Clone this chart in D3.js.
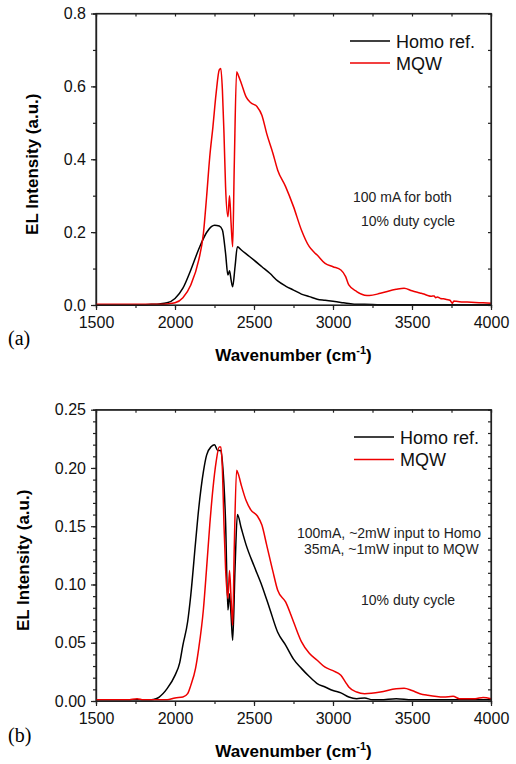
<!DOCTYPE html>
<html>
<head>
<meta charset="utf-8">
<script src="https://cdn.jsdelivr.net/npm/d3@7"></script>
<style>
  body { margin: 0; background: #fff; }
  svg { font-family: "Liberation Sans", Arial, sans-serif; }
  .axis path, .axis line { stroke: #222; stroke-width: 1.2; }
  .axis text { font-size: 16px; fill: #111; }
</style>
</head>
<body>
<div id="chart-area"></div>
<script>
/*
*    EL spectra, two panels
*/

// shared
var xTicks = [1500, 2000, 2500, 3000, 3500, 4000]
var seriesNames = ["Homo ref.", "MQW"]
var seriesColors = ["#000000", "#ee0000"]

// panel (a): 100 mA for both
var aYTicks = [0.0, 0.2, 0.4, 0.6, 0.8]
var aNotes = ["100 mA for both", "10% duty cycle"]

var aHomoX = [1500, 1600, 1700, 1800, 1850, 1900, 1950, 2000, 2050, 2100, 2150, 2200, 2230, 2250, 2280, 2300, 2320, 2335, 2345, 2355, 2365, 2380, 2395, 2420, 2460, 2500, 2550, 2600, 2650, 2700, 2750, 2800, 2850, 2900, 2950, 3000, 3050, 3100, 3150, 3200, 3300, 3400, 3500, 3600, 3700, 3800, 3900, 4000]
var aHomoY = [0.001, 0.001, 0.001, 0.001, 0.002, 0.003, 0.006, 0.018, 0.046, 0.096, 0.153, 0.199, 0.215, 0.219, 0.217, 0.206, 0.142, 0.082, 0.094, 0.069, 0.050, 0.105, 0.160, 0.151, 0.137, 0.123, 0.105, 0.087, 0.066, 0.052, 0.041, 0.030, 0.023, 0.016, 0.013, 0.010, 0.007, 0.004, 0.002, 0.002, 0.001, 0.001, 0.001, 0.001, 0.001, 0.001, 0.001, 0.001]

var aMqwX = [1500, 1600, 1700, 1800, 1900, 1950, 2000, 2050, 2100, 2150, 2180, 2200, 2220, 2240, 2260, 2280, 2290, 2300, 2310, 2320, 2335, 2345, 2355, 2365, 2375, 2390, 2400, 2420, 2450, 2480, 2520, 2550, 2580, 2620, 2650, 2700, 2750, 2800, 2850, 2880, 2900, 2950, 3000, 3050, 3080, 3100, 3150, 3200, 3230, 3300, 3400, 3450, 3500, 3550, 3575, 3600, 3620, 3640, 3650, 3660, 3680, 3700, 3720, 3740, 3755, 3765, 3780, 3800, 3850, 3900, 3950, 4000]
var aMqwY = [0.002, 0.002, 0.002, 0.002, 0.002, 0.003, 0.006, 0.020, 0.055, 0.123, 0.197, 0.297, 0.407, 0.489, 0.580, 0.645, 0.649, 0.590, 0.471, 0.325, 0.242, 0.300, 0.224, 0.160, 0.380, 0.640, 0.631, 0.608, 0.571, 0.555, 0.544, 0.521, 0.471, 0.416, 0.370, 0.325, 0.270, 0.206, 0.160, 0.145, 0.137, 0.114, 0.105, 0.096, 0.078, 0.055, 0.037, 0.027, 0.026, 0.032, 0.043, 0.046, 0.039, 0.033, 0.030, 0.026, 0.024, 0.025, 0.020, 0.022, 0.018, 0.017, 0.015, 0.013, 0.005, 0.011, 0.010, 0.009, 0.008, 0.007, 0.006, 0.005]

// panel (b): different drive currents
var bYTicks = [0.00, 0.05, 0.10, 0.15, 0.20, 0.25]
var bNotes = ["100mA, ~2mW input to Homo", "35mA, ~1mW input to MQW", "10% duty cycle"]

var bHomoX = [1500, 1600, 1700, 1800, 1850, 1880, 1900, 1950, 2000, 2030, 2050, 2080, 2100, 2130, 2150, 2180, 2200, 2230, 2250, 2270, 2290, 2300, 2320, 2335, 2345, 2355, 2365, 2380, 2395, 2420, 2450, 2500, 2550, 2600, 2650, 2700, 2750, 2800, 2850, 2900, 2950, 3000, 3050, 3100, 3150, 3200, 3250, 3300, 3400, 3500, 3600, 3700, 3800, 3900, 4000]
var bHomoY = [0.001, 0.001, 0.001, 0.001, 0.001, 0.002, 0.0034, 0.0106, 0.022, 0.033, 0.048, 0.068, 0.091, 0.136, 0.165, 0.197, 0.211, 0.2185, 0.220, 0.215, 0.215, 0.205, 0.154, 0.078, 0.092, 0.0735, 0.052, 0.114, 0.160, 0.148, 0.134, 0.116, 0.099, 0.079, 0.059, 0.048, 0.036, 0.028, 0.021, 0.015, 0.012, 0.009, 0.007, 0.0034, 0.002, 0.0026, 0.001, 0.001, 0.002, 0.001, 0.001, 0.001, 0.001, 0.001, 0.001]

var bMqwX = [1500, 1600, 1700, 1760, 1800, 1900, 1950, 2000, 2050, 2080, 2100, 2130, 2150, 2180, 2200, 2220, 2240, 2260, 2280, 2290, 2300, 2310, 2320, 2335, 2345, 2355, 2365, 2375, 2390, 2400, 2420, 2450, 2480, 2520, 2550, 2580, 2620, 2650, 2700, 2750, 2800, 2850, 2900, 2950, 3000, 3050, 3080, 3100, 3150, 3200, 3300, 3400, 3450, 3500, 3550, 3600, 3700, 3760, 3800, 3900, 3950, 4000]
var bMqwY = [0.001, 0.001, 0.001, 0.002, 0.001, 0.001, 0.001, 0.0026, 0.0034, 0.0063, 0.0134, 0.028, 0.045, 0.079, 0.114, 0.151, 0.182, 0.205, 0.218, 0.218, 0.199, 0.151, 0.114, 0.088, 0.112, 0.088, 0.065, 0.131, 0.198, 0.195, 0.185, 0.172, 0.164, 0.159, 0.151, 0.134, 0.111, 0.095, 0.085, 0.068, 0.051, 0.041, 0.035, 0.029, 0.026, 0.022, 0.016, 0.012, 0.0077, 0.0063, 0.0077, 0.0106, 0.011, 0.009, 0.0063, 0.0049, 0.0034, 0.004, 0.002, 0.002, 0.003, 0.002]

var cw = 516
var ch = 764

var svg = d3.select("#chart-area").append("svg")
    .attr("width", cw)
    .attr("height", ch)

var panels = [
    {
        label: "(a)", top: 13.5, bottom: 305, yMax: 0.8, yTicks: aYTicks, yMinor: 0.1, fmt: d3.format(".1f"),
        series: [[aHomoX, aHomoY], [aMqwX, aMqwY]],
        legendX: 350, legendY: 41, legendGap: 22,
        notes: aNotes, noteX: [353, 361], noteY: [202, 226],
        yTitleX: 38, labelY: 345
    },
    {
        label: "(b)", top: 409.7, bottom: 701, yMax: 0.25, yTicks: bYTicks, yMinor: 0.01, fmt: d3.format(".2f"),
        series: [[bHomoX, bHomoY], [bMqwX, bMqwY]],
        legendX: 354, legendY: 437, legendGap: 22.5,
        notes: bNotes, noteX: [297, 304, 361], noteY: [538, 554, 605],
        yTitleX: 29, labelY: 742
    }
]

var left = 96
var right = 491

panels.forEach(function(p) {
    var x = d3.scaleLinear().domain([1500, 4000]).range([left, right])
    var y = d3.scaleLinear().domain([0, p.yMax]).range([p.bottom, p.top])

    var xMinor = d3.range(1500, 4001, 250)
    var yMinor = d3.range(0, p.yMax + 1e-9, p.yMinor)

    // minor ticks first
    svg.append("g").attr("class", "axis")
        .attr("transform", "translate(0," + p.bottom + ")")
        .call(d3.axisBottom(x).tickValues(xMinor).tickSize(3).tickFormat(""))
    svg.append("g").attr("class", "axis")
        .attr("transform", "translate(" + left + ",0)")
        .call(d3.axisLeft(y).tickValues(yMinor).tickSize(3).tickFormat(""))
    svg.append("g").attr("class", "axis")
        .attr("transform", "translate(0," + p.top + ")")
        .call(d3.axisTop(x).tickValues(xMinor).tickSize(-3).tickFormat(""))
    svg.append("g").attr("class", "axis")
        .attr("transform", "translate(" + right + ",0)")
        .call(d3.axisRight(y).tickValues(yMinor).tickSize(-3).tickFormat(""))

    // major ticks
    svg.append("g").attr("class", "axis")
        .attr("transform", "translate(0," + p.bottom + ")")
        .call(d3.axisBottom(x).tickValues(xTicks).tickSize(5).tickSizeOuter(0).tickPadding(7).tickFormat(d3.format("d")))
    svg.append("g").attr("class", "axis")
        .attr("transform", "translate(" + left + ",0)")
        .call(d3.axisLeft(y).tickValues(p.yTicks).tickSize(5).tickSizeOuter(0).tickPadding(5).tickFormat(p.fmt))

    var line = d3.line()
        .x(d => x(d[0]))
        .y(d => y(d[1]))
        .curve(d3.curveMonotoneX)

    p.series.forEach(function(s, i) {
        var pts = s[0].map((v, k) => [v, s[1][k]])
        svg.append("path")
            .datum(pts)
            .attr("fill", "none")
            .attr("stroke", seriesColors[i])
            .attr("stroke-width", 1.5)
            .attr("stroke-linejoin", "round")
            .attr("d", line)
    })

    // legend
    seriesNames.forEach(function(name, i) {
        var ly = p.legendY + i * p.legendGap
        svg.append("line")
            .attr("x1", p.legendX).attr("x2", p.legendX + 40)
            .attr("y1", ly).attr("y2", ly)
            .attr("stroke", seriesColors[i])
            .attr("stroke-width", 1.5)
        svg.append("text")
            .attr("x", p.legendX + 46)
            .attr("y", ly + 6.5)
            .attr("font-size", "18px")
            .attr("fill", "#111")
            .text(name)
    })

    // notes
    p.notes.forEach(function(t, i) {
        svg.append("text")
            .attr("x", p.noteX[i])
            .attr("y", p.noteY[i])
            .attr("font-size", "14px")
            .attr("fill", "#222")
            .text(t)
    })

    // axis titles
    var xt = svg.append("text")
        .attr("x", (left + right) / 2)
        .attr("y", p.bottom + 56)
        .attr("text-anchor", "middle")
        .attr("font-size", "17px")
        .attr("font-weight", "bold")
    xt.append("tspan").text("Wavenumber (cm")
    xt.append("tspan").attr("font-size", "11px").attr("dy", -7).text("-1")
    xt.append("tspan").attr("dy", 7).text(")")

    svg.append("text")
        .attr("transform", "translate(" + p.yTitleX + "," + ((p.top + p.bottom) / 2 + 5) + ") rotate(-90)")
        .attr("text-anchor", "middle")
        .attr("font-size", "17px")
        .attr("font-weight", "bold")
        .text("EL Intensity (a.u.)")

    svg.append("text")
        .attr("x", 8)
        .attr("y", p.labelY)
        .attr("font-family", "'Liberation Serif', 'Times New Roman', serif")
        .attr("font-size", "20px")
        .text(p.label)

    // frame
    svg.append("rect")
        .attr("x", left).attr("y", p.top)
        .attr("width", right - left).attr("height", p.bottom - p.top)
        .attr("fill", "none")
        .attr("stroke", "#222")
        .attr("stroke-width", 1.2)
})
</script>
</body>
</html>
